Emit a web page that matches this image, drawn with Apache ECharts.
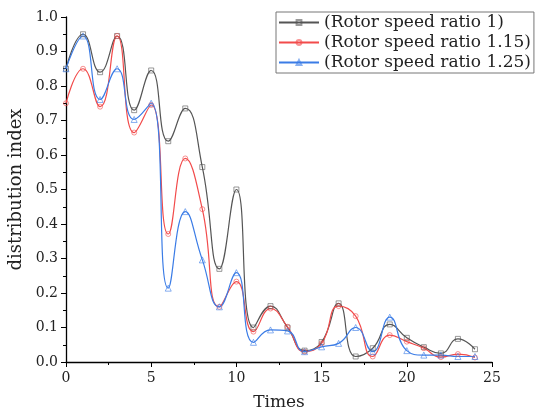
<!DOCTYPE html>
<html><head><meta charset="utf-8">
<script src="https://cdn.jsdelivr.net/npm/echarts@6/dist/echarts.min.js"></script>
<style>html,body{margin:0;padding:0;background:#fff}#c{width:543px;height:410px}</style>
</head><body><div id="c"></div>
<script>
const times = [0,1,2,3,4,5,6,7,8,9,10,11,12,13,14,15,16,17,18,19,20,21,22,23,24];
const ratio1 =   [0.85,0.95,0.84,0.945,0.73,0.845,0.64,0.735,0.565,0.27,0.50,0.10,0.162,0.10,0.033,0.058,0.17,0.016,0.04,0.109,0.07,0.043,0.025,0.067,0.037];
const ratio115 = [0.75,0.85,0.74,0.945,0.665,0.745,0.371,0.59,0.443,0.16,0.233,0.088,0.155,0.102,0.03,0.054,0.162,0.133,0.016,0.078,0.059,0.04,0.014,0.023,0.013];
const ratio125 = [0.85,0.945,0.761,0.85,0.703,0.75,0.214,0.436,0.296,0.16,0.259,0.057,0.093,0.09,0.03,0.044,0.054,0.1,0.03,0.13,0.033,0.02,0.02,0.016,0.016];
const seriesNames = ['(Rotor speed ratio 1)','(Rotor speed ratio 1.15)','(Rotor speed ratio 1.25)'];
const xTitle = 'Times', yTitle = 'distribution index';

const font = 'DejaVu Serif';
function mk(name, data, color, symbol){
  return {name, type:'line', smooth:0.5, data: data.map((v,i)=>[times[i],v]),
    symbol, symbolSize: symbol==='triangle'?6:5, showSymbol:true,
    lineStyle:{color, width:1.2}, itemStyle:{color:'rgba(255,255,255,0)', borderColor:color, borderWidth:1, opacity:0.6},
    color};
}
const chart = echarts.init(document.getElementById('c'));
chart.setOption({
  animation:false,
  grid:{left:66, right:51, top:17, bottom:48, outerBoundsMode:'none', containLabel:false},
  legend:{left:276, top:12, orient:'vertical', itemGap:3, itemWidth:40, itemHeight:6,
    padding:[2,3,2,2], borderColor:'#777', borderWidth:1, backgroundColor:'#fff',
    textStyle:{fontFamily:font, fontSize:17, color:'#222'}},
  xAxis:{type:'value', min:0, max:25, interval:5, name:xTitle, nameLocation:'middle', nameGap:32,
    nameTextStyle:{fontFamily:font, fontSize:17, color:'#222'},
    axisLine:{lineStyle:{color:'#000', width:1.3}}, axisTick:{inside:false, length:5, lineStyle:{color:'#000'}},
    minorTick:{show:true, splitNumber:2, length:3, lineStyle:{color:'#000'}},
    splitLine:{show:false}, axisLabel:{fontFamily:font, fontSize:14, color:'#222', margin:9}},
  yAxis:{type:'value', min:0, max:1, interval:0.1, name:yTitle, nameLocation:'middle', nameGap:34,
    nameTextStyle:{fontFamily:font, fontSize:18, color:'#222'},
    axisLine:{show:true, lineStyle:{color:'#000', width:1.3}}, axisTick:{show:true, length:5, lineStyle:{color:'#000'}},
    minorTick:{show:true, splitNumber:2, length:3, lineStyle:{color:'#000'}},
    splitLine:{show:false}, axisLabel:{fontFamily:font, fontSize:14, color:'#222', margin:8, formatter:v=>v.toFixed(1)}},
  series:[
    mk(seriesNames[0], ratio1, '#555555', 'rect'),
    mk(seriesNames[1], ratio115, '#f24b4b', 'circle'),
    mk(seriesNames[2], ratio125, '#3b7ce6', 'triangle')
  ]
});
</script></body></html>
